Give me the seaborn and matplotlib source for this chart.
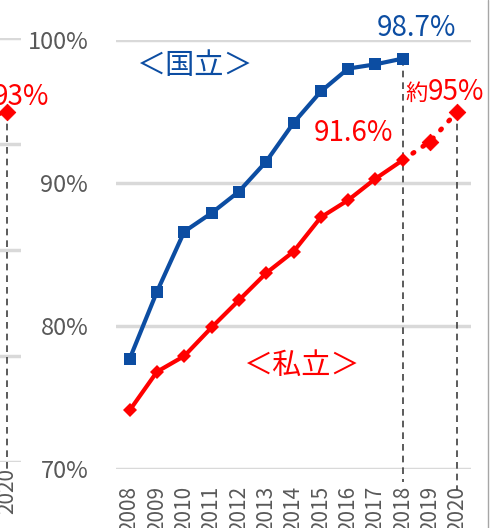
import matplotlib
matplotlib.use("Agg")
import matplotlib.pyplot as plt
from matplotlib.lines import Line2D
import seaborn as sns
import pandas as pd

sns.set_style("white")
plt.rcParams['font.family'] = ['Noto Sans CJK JP', 'DejaVu Sans']

# national (国立) and private (私立) rates, 2008-2018
years = [2008, 2009, 2010, 2011, 2012, 2013, 2014, 2015, 2016, 2017, 2018]
national = [77.7, 82.4, 86.6, 87.9, 89.4, 91.5, 94.2, 96.4, 98.0, 98.3, 98.7]
private = [74.1, 76.8, 77.9, 79.9, 81.8, 83.7, 85.2, 87.6, 88.8, 90.3, 91.6]
# private projection (dotted)
proj_years = [2018, 2019, 2020]
proj_private = [91.6, 92.9, 95.0]
# neighbouring chart (only its right edge is visible)
left_years = [2019, 2020]
left_values = [92.4, 93.0]

tick_years = list(range(2008, 2021))
y_ticks = [70, 80, 90, 100]
left_y_ticks = [60, 70, 80, 90, 100]

BLUE = "#0C4DA2"
RED = "#FF0000"
GRID = "#D9D9D9"
TICK = "#595959"
DASH = "#404040"

fig = plt.figure(figsize=(4.9, 5.28), dpi=100)
W, H = 490, 528

# --- cropped neighbour chart on the far left
axl = fig.add_axes([(21 - 364) / W, 66 / H, 364 / W, 424 / H])
df_l = pd.DataFrame({"year": left_years, "v": left_values})
sns.lineplot(data=df_l, x="year", y="v", ax=axl, color=RED, lw=3,
             linestyle=(0, (0.3, 2.2)), dash_capstyle="round")
sns.scatterplot(data=df_l[df_l.year == 2020], x="year", y="v", ax=axl,
                color=RED, marker="D", s=70, edgecolor=None, zorder=5)
axl.plot([2020, 2020], [left_values[-1], 59.2], color=DASH, lw=1.2,
         ls=(0, (4, 3)), clip_on=False, zorder=1)
axl.text(2021.5, 94.4, "93%", color=RED, fontsize=20, ha="right", va="center")
axl.set_xlim(2007.5, 2020.5)
axl.set_ylim(60, 100)
axl.set_yticks(left_y_ticks)
axl.set_yticklabels([])
axl.set_xticks([2020])
axl.set_xticklabels(["2020"], rotation=90, fontsize=15, color=TICK, va="top")
axl.tick_params(axis="x", length=0, pad=4)
axl.tick_params(axis="y", length=0)
axl.grid(axis="y", color=GRID, lw=2.5)
axl.set_xlabel("")
axl.set_ylabel("")
sns.despine(ax=axl, left=True, bottom=True)

# --- main chart
ax = fig.add_axes([116 / W, 59 / H, 355 / W, 429 / H])
df = pd.DataFrame({"year": years, "national": national, "private": private})
df_p = pd.DataFrame({"year": proj_years, "private": proj_private})

sns.lineplot(data=df, x="year", y="national", ax=ax, color=BLUE, lw=3,
             marker="s", markersize=8.5, markeredgewidth=0, zorder=4)
sns.lineplot(data=df_p, x="year", y="private", ax=ax, color=RED, lw=3.5,
             linestyle=(0, (0.3, 2.2)), dash_capstyle="round", zorder=3)
sns.lineplot(data=df, x="year", y="private", ax=ax, color=RED, lw=3,
             marker="D", markersize=7.5, markeredgewidth=0, zorder=4)
sns.scatterplot(data=df_p.iloc[1:], x="year", y="private", ax=ax, color=RED,
                marker="D", s=70, edgecolor=None, zorder=5)

# dashed drop lines
ax.plot([2018, 2018], [national[-1], 69.1], color=DASH, lw=1.2,
        ls=(0, (4, 3)), clip_on=False, zorder=2)
ax.plot([2020, 2020], [proj_private[-1], 68.5], color=DASH, lw=1.2,
        ls=(0, (4, 3)), clip_on=False, zorder=2)

ax.text(2010.4, 98.2, "＜国立＞", color=BLUE, fontsize=21, ha="center", va="center")
ax.text(2014.3, 77.2, "＜私立＞", color=RED, fontsize=21, ha="center", va="center")
ax.text(2018.5, 100.84, "98.7%", color=BLUE, fontsize=20, ha="center", va="center",
        clip_on=False)
ax.text(2016.2, 93.5, "91.6%", color=RED, fontsize=20, ha="center", va="center")
ax.text(2018.93, 95.8, "約", color=RED, fontsize=16, ha="right", va="baseline")
ax.text(2018.93, 95.8, "95%", color=RED, fontsize=20, ha="left", va="baseline",
        clip_on=False)

ax.set_xlim(2007.5, 2020.5)
ax.set_ylim(70, 100)
ax.set_yticks(y_ticks)
ax.set_yticklabels([f"{v}%" for v in y_ticks], fontsize=17, color=TICK)
ax.set_xticks(tick_years)
ax.set_xticklabels([str(y) for y in tick_years], rotation=90, fontsize=15,
                   color=TICK, va="top")
ax.tick_params(axis="x", length=0, pad=12)
ax.tick_params(axis="y", length=0, pad=20)
ax.grid(axis="y", color=GRID, lw=2.5, zorder=0)
ax.set_axisbelow(True)
ax.set_xlabel("")
ax.set_ylabel("")
sns.despine(ax=ax, left=True, bottom=True)

# chart border on the right
fig.add_artist(Line2D([487.5 / W, 487.5 / W], [0, 1], color="#A6A6A6", lw=1))

fig.savefig("out.png", dpi=100)
